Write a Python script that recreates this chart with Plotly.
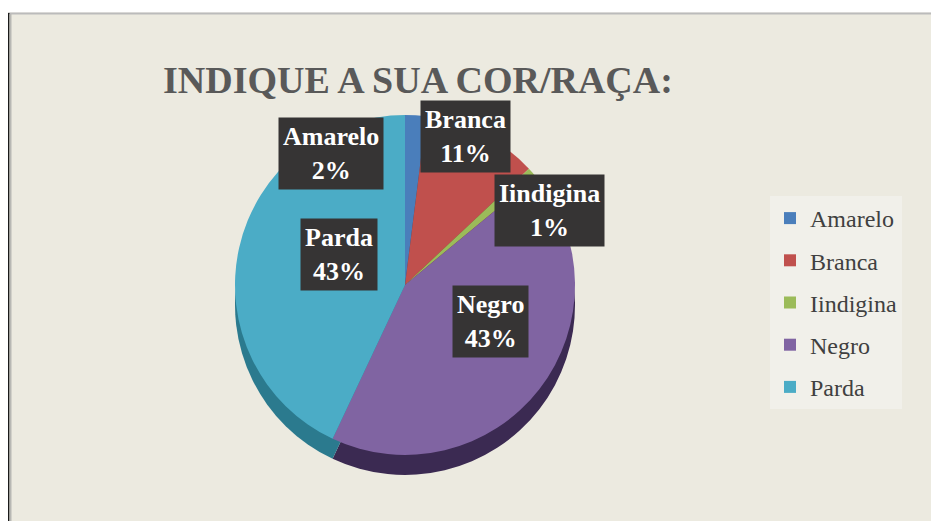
import math
import plotly.graph_objects as go

# ---- data ----
categories = ["Amarelo", "Branca", "Iindigina", "Negro", "Parda"]
values = [2, 11, 1, 43, 43]
colors = ["#4A7EBB", "#C0504D", "#9BBB59", "#8064A2", "#4BACC6"]
side_colors = ["#2C4D74", "#772C2A", "#5F7530", "#3B2A52", "#2B7A8E"]
title_text = "INDIQUE A SUA COR/RAÇA:"

W, H = 939, 521
OFF = 8          # page body margin: figure starts at page (8, 8)
BG = "#ECEAE0"
SERIF = "Liberation Serif"


def fx(px):
    return (px - OFF) / W


def fy(py):
    return (H - (py - OFF)) / H


# pie placement (page pixels)
cx, cy, r = 405, 285, 170
depth = 20

fig = go.Figure()

# darker copy shifted down gives the 3D side wall
fig.add_trace(go.Pie(
    labels=categories, values=values, sort=False, direction="clockwise",
    rotation=0, marker=dict(colors=side_colors, line=dict(width=0)),
    textinfo="none", hoverinfo="skip", showlegend=False,
    domain=dict(x=[fx(cx - r), fx(cx + r)], y=[fy(cy + depth + r), fy(cy + depth - r)]),
))
fig.add_trace(go.Pie(
    labels=categories, values=values, sort=False, direction="clockwise",
    rotation=0, marker=dict(colors=colors, line=dict(width=0)),
    textinfo="none", hoverinfo="label+percent", showlegend=False,
    domain=dict(x=[fx(cx - r), fx(cx + r)], y=[fy(cy + r), fy(cy - r)]),
))

# legend via dummy traces (for item spacing)
for c, col in zip(categories, colors):
    fig.add_trace(go.Scatter(
        x=[None], y=[None], mode="markers", name=c, legendgroup=c,
        marker=dict(symbol="square", size=12, color=col),
    ))

# data labels: anchored at slice mid-angle, nudged like Excel best-fit
nudge = {
    "Amarelo": (-80, 30),
    "Branca": (14, 58),
    "Iindigina": (68, 7),
    "Negro": (5, 26),
    "Parda": (-5, 8),
}
total = sum(values)
cum = 0
for c, v in zip(categories, values):
    mid = (cum + v / 2) / total * 2 * math.pi
    cum += v
    px = cx + 0.6 * r * math.sin(mid)
    py = cy - 0.6 * r * math.cos(mid)
    dx, dy = nudge[c]
    fig.add_annotation(
        x=fx(px), y=fy(py), xref="paper", yref="paper",
        xshift=dx, yshift=dy,
        text=f"<b>{c}<br>{round(v / total * 100)}%</b>",
        showarrow=False, bgcolor="#363434", borderpad=4,
        font=dict(family=SERIF, size=26, color="white"),
    )

# frame decorations
fig.add_shape(type="rect", xref="paper", yref="paper", x0=0, x1=1,
              y0=fy(12.5), y1=1, fillcolor="white", line=dict(width=0), layer="above")
fig.add_shape(type="line", xref="paper", yref="paper", x0=0, x1=1,
              y0=fy(13.5), y1=fy(13.5), line=dict(color="#BBBBBB", width=2))
fig.add_shape(type="line", xref="paper", yref="paper", x0=fx(8.5), x1=fx(8.5),
              y0=0, y1=fy(13), line=dict(color="#1A1A1A", width=2))
fig.add_shape(type="line", xref="paper", yref="paper", x0=fx(10.5), x1=fx(10.5),
              y0=0, y1=fy(14), line=dict(color="#B8B8B4", width=2))

fig.update_layout(
    width=W, height=H, margin=dict(l=0, r=0, t=0, b=0),
    paper_bgcolor=BG, plot_bgcolor=BG,
    xaxis=dict(visible=False), yaxis=dict(visible=False),
    title=dict(text=f"<b>{title_text}</b>", x=fx(163), xanchor="left",
               y=fy(80), yanchor="middle",
               font=dict(family=SERIF, size=38, color="#595959")),
    legend=dict(x=fx(770), y=fy(196), xanchor="left", yanchor="top",
                bgcolor="#F1F0EA", tracegroupgap=8, traceorder="grouped",
                font=dict(family=SERIF, size=24, color="#404040"),
                itemclick=False, itemdoubleclick=False),
)

fig.write_html("out.html")
